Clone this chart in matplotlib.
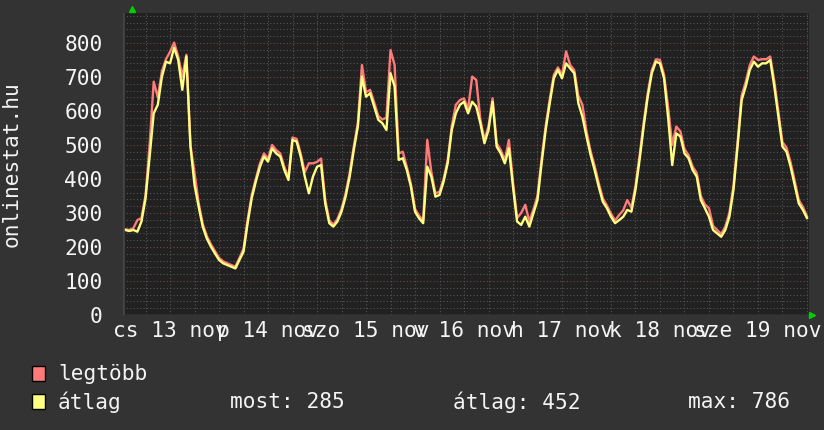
import numpy as np
import matplotlib
matplotlib.use("Agg")
import matplotlib.pyplot as plt
from matplotlib.ticker import MultipleLocator, NullFormatter

# hours since midnight, 13 Nov
hours = list(range(1, 169))

# average ("átlag") - hourly readings
avg = [250, 247, 250, 245, 275, 343, 466, 593, 618, 700, 745, 740, 786, 750, 662, 760,
       495, 382, 319, 260, 225, 201, 181, 162, 152, 147, 142, 137, 162, 186, 270, 343,
       392, 435, 466, 451, 490, 475, 466, 426, 397, 515, 510, 466, 407, 358, 407, 436,
       441, 328, 270, 260, 275, 304, 348, 407, 485, 554, 701, 642, 652, 613, 574, 564,
       544, 711, 672, 456, 461, 426, 377, 304, 284, 270, 436, 407, 348, 353, 392, 446,
       544, 593, 618, 627, 593, 627, 613, 564, 505, 544, 627, 495, 475, 446, 490, 377,
       275, 265, 289, 260, 299, 338, 446, 544, 623, 696, 721, 696, 740, 725, 711, 623,
       583, 525, 471, 426, 377, 333, 314, 289, 270, 279, 289, 309, 304, 368, 456, 554,
       642, 711, 745, 740, 696, 580, 441, 534, 525, 475, 461, 426, 407, 338, 314, 289,
       250, 240, 230, 250, 289, 368, 495, 632, 672, 721, 745, 730, 740, 740, 750, 672,
       583, 495, 480, 436, 382, 328, 309, 285]

# maximum ("legtöbb")
peak = [252, 250, 255, 279, 285, 352, 500, 686, 640, 716, 752, 774, 801, 760, 701, 765,
        500, 417, 330, 268, 232, 208, 188, 168, 158, 152, 147, 142, 168, 195, 280, 352,
        400, 445, 475, 460, 500, 485, 475, 435, 405, 522, 518, 475, 420, 446, 446, 450,
        460, 340, 278, 266, 282, 312, 357, 418, 495, 565, 735, 655, 662, 625, 585, 575,
        580, 779, 735, 475, 480, 435, 385, 312, 292, 278, 515, 420, 358, 362, 400, 455,
        555, 618, 632, 637, 605, 701, 691, 575, 515, 555, 637, 505, 485, 455, 515, 390,
        285, 300, 324, 275, 310, 350, 458, 555, 635, 706, 728, 706, 775, 735, 720, 645,
        618, 540, 482, 438, 388, 343, 322, 298, 278, 294, 308, 338, 315, 380, 468, 565,
        652, 720, 752, 750, 706, 610, 500, 554, 540, 488, 470, 436, 418, 350, 325, 314,
        262, 250, 238, 260, 300, 380, 508, 645, 685, 735, 760, 750, 752, 752, 760, 688,
        598, 508, 492, 448, 394, 338, 318, 290]

day_labels = ["cs 13 nov", "p 14 nov", "szo 15 nov", "v 16 nov",
              "h 17 nov", "k 18 nov", "sze 19 nov"]
label_hours = [12, 36, 60, 84, 108, 132, 156]

legend_names = ["legtöbb", "átlag"]
stats = ["most: 285", "átlag: 452", "max: 786"]

BG = "#333333"
PLOT_BG = "#212121"
RED = "#ff7b7b"
YEL = "#ffff80"
TXT = "#f4f4f4"
FONT = "DejaVu Sans Mono"
FS = 15.2

fig = plt.figure(figsize=(8.24, 4.30), dpi=100, facecolor=BG)
W, H = 824, 430
x0, x1, y0, y1 = 123.5, 809, 13, 315
ax = fig.add_axes([x0 / W, 1 - y1 / H, (x1 - x0) / W, (y1 - y0) / H])
ax.set_facecolor(PLOT_BG)

ax.plot(hours, peak, color=RED, lw=1.7)
ax.plot(hours, avg, color=YEL, lw=1.7)

ax.set_xlim(0.6, 168.5)
ax.set_ylim(0, 888)

# grid
ax.yaxis.set_major_locator(MultipleLocator(100))
ax.yaxis.set_minor_locator(MultipleLocator(20))
ax.xaxis.set_major_locator(MultipleLocator(24))
ax.xaxis.set_minor_locator(MultipleLocator(6))
ax.xaxis.set_major_formatter(NullFormatter())
ax.grid(which="minor", color="#555555", linestyle=(0, (1, 2)), lw=0.8)
ax.grid(which="major", color="#7a4444", linestyle=(0, (1, 2)), lw=0.8)
ax.set_axisbelow(True)
ax.tick_params(which="both", length=0)
ax.tick_params(axis="y", colors=TXT, labelsize=FS, pad=15)
for lab in ax.get_yticklabels():
    lab.set_fontfamily(FONT)

for s in ax.spines.values():
    s.set_visible(False)
ax.axvline(0.6, color="#444444", lw=2)
ax.axhline(0, color="#555555", lw=1)

# day labels centred at noon
for h, lab in zip(label_hours, day_labels):
    ax.text(h, -16 / 302 * 888, lab, ha="center", va="center", color=TXT,
            fontsize=FS, family=FONT, clip_on=False)

# axis arrows
ax.plot([0.012], [1.012], marker="^", color="#00d000", ms=4,
        transform=ax.transAxes, clip_on=False)
ax.plot([1.005], [0.0], marker=">", color="#00d000", ms=4,
        transform=ax.transAxes, clip_on=False)

fig.text(12 / W, 1 - 164 / H, "onlinestat.hu", rotation=90, ha="center",
         va="center", color=TXT, fontsize=FS, family=FONT)

# legend
for i, (name, col) in enumerate(zip(legend_names, [RED, YEL])):
    yc = 374 + 28 * i
    fig.patches.append(plt.Rectangle((32 / W, 1 - (yc + 7) / H), 13 / W, 15 / H,
                                     transform=fig.transFigure, facecolor=col,
                                     edgecolor="black", lw=1))
    fig.text(58 / W, 1 - yc / H, name, ha="left", va="center", color=TXT,
             fontsize=FS, family=FONT)
for xs, s in zip([230, 453, 688], stats):
    fig.text(xs / W, 1 - 402 / H, s, ha="left", va="center", color=TXT,
             fontsize=FS, family=FONT)

fig.savefig("out.png", dpi=100, facecolor=BG)
